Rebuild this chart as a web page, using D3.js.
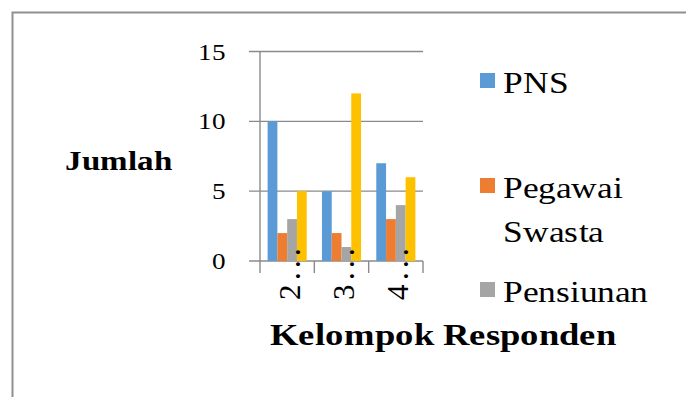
<!DOCTYPE html>
<html><head><meta charset="utf-8">
<script src="https://cdn.jsdelivr.net/npm/d3@7"></script>
<style>
@font-face { font-family: "ChartSerif"; font-weight: 400; src: local("Liberation Serif"), local("LiberationSerif"), local("Liberation Serif Regular"), local("LiberationSerif-Regular"); }
@font-face { font-family: "ChartSerif"; font-weight: 700; src: local("Liberation Serif Bold"), local("LiberationSerif-Bold"); }
html,body{margin:0;padding:0;background:#fff}
</style>
</head><body>
<svg id="chart" width="686" height="397"></svg>
<script>
// Jumlah responden per kelompok dan pekerjaan
const categories = ["2...", "3...", "4..."];
const seriesNames = ["PNS", "Pegawai Swasta", "Pensiunan", "Wiraswasta"];
const legendLines = [["PNS"], ["Pegawai", "Swasta"], ["Pensiunan"]];
const seriesColors = ["#5B9BD5", "#ED7D31", "#A5A5A5", "#FFC000"];
const pns = [10, 5, 7];
const pegawaiSwasta = [2, 2, 3];
const pensiunan = [3, 1, 4];
const wiraswasta = [5, 12, 6];
const yTicks = [0, 5, 10, 15];

const seriesValues = [pns, pegawaiSwasta, pensiunan, wiraswasta];
const data = categories.map((c, i) => ({
  cat: c,
  vals: seriesNames.map((s, k) => ({ key: s, value: seriesValues[k][i], color: seriesColors[k] }))
}));

const FONT = "ChartSerif, 'Liberation Serif', 'Times New Roman', 'DejaVu Serif', serif";
const SX = 1.18; // horizontal widening of the lettering
const svg = d3.select("#chart");

// widen a text horizontally by SX through textLength
function widen(sel) {
  sel.each(function () {
    const w = this.getComputedTextLength();
    d3.select(this).attr("textLength", w * SX).attr("lengthAdjust", "spacingAndGlyphs");
  });
}

// outer frame
svg.append("path")
  .attr("d", "M12.5,397 V12.5 H686")
  .attr("fill", "none").attr("stroke", "#8f8f8f").attr("stroke-width", 2);

const plotLeft = 260, plotRight = 423, plotTop = 51.5, plotBottom = 261;
const y = d3.scaleLinear().domain([0, 15]).range([plotBottom, plotTop]);
const x = d3.scaleBand().domain(categories).range([plotLeft, plotRight]).paddingInner(0).paddingOuter(0);
const x1 = d3.scaleBand().domain(seriesNames).range([0, x.bandwidth()]).paddingInner(0).paddingOuter(0.78);

const gridColor = "#8a8a8a";
// horizontal gridlines with tick stubs
svg.append("g").selectAll("line").data(yTicks).join("line")
  .attr("x1", plotLeft - 11).attr("x2", plotRight)
  .attr("y1", d => y(d)).attr("y2", d => y(d))
  .attr("stroke", gridColor).attr("stroke-width", 1.4);

// y axis line
svg.append("line")
  .attr("x1", plotLeft).attr("x2", plotLeft)
  .attr("y1", y(15)).attr("y2", plotBottom + 12)
  .attr("stroke", gridColor).attr("stroke-width", 1.4);

// category boundary ticks
const bounds = categories.map(c => x(c)).concat([x.range()[1]]);
svg.append("g").selectAll("line").data(bounds.slice(1)).join("line")
  .attr("x1", d => d).attr("x2", d => d)
  .attr("y1", plotBottom).attr("y2", plotBottom + 12)
  .attr("stroke", gridColor).attr("stroke-width", 1.4);

// bars
svg.append("g").selectAll("g").data(data).join("g")
  .attr("transform", d => `translate(${x(d.cat)},0)`)
  .selectAll("rect").data(d => d.vals).join("rect")
  .attr("x", d => x1(d.key))
  .attr("width", x1.bandwidth())
  .attr("y", d => y(d.value))
  .attr("height", d => y(0) - y(d.value))
  .attr("fill", d => d.color);

// legend swatches
const legendBase = [93, 198, 302];
svg.selectAll("rect.swatch").data(legendLines).join("rect")
  .attr("class", "swatch")
  .attr("x", 480).attr("y", (d, i) => legendBase[i] - 20)
  .attr("width", 15).attr("height", 15)
  .attr("fill", (d, i) => seriesColors[i]);

function draw() {
  // y tick labels
  svg.selectAll("text.ytick").data(yTicks).join("text")
    .attr("class", "ytick")
    .attr("x", 226).attr("y", d => y(d))
    .attr("dy", "0.35em")
    .attr("text-anchor", "end")
    .style("font-family", FONT).style("font-size", "23px").style("font-weight", "400")
    .text(d => d)
    .call(widen);

  // rotated category labels
  svg.selectAll("text.xtick").data(categories).join("text")
    .attr("class", "xtick")
    .attr("transform", d => `translate(${x(d) + x.bandwidth() / 2 + 12.5},300) rotate(-90)`)
    .style("font-family", FONT).style("font-size", "31px").style("font-weight", "400")
    .style("letter-spacing", "4px")
    .text(d => d);

  // axis titles
  svg.append("text")
    .attr("x", 65).attr("y", 170)
    .style("font-family", FONT).style("font-size", "28px").style("font-weight", "700")
    .text("Jumlah")
    .call(widen);
  svg.append("text")
    .attr("x", 270).attr("y", 345)
    .style("font-family", FONT).style("font-size", "30.5px").style("font-weight", "700")
    .text("Kelompok Responden")
    .call(widen);

  // legend labels
  const legendRows = [
    { text: legendLines[0][0], y: legendBase[0] },
    { text: legendLines[1][0], y: legendBase[1] },
    { text: legendLines[1][1], y: legendBase[1] + 44 },
    { text: legendLines[2][0], y: legendBase[2] }
  ];
  svg.selectAll("text.legend").data(legendRows).join("text")
    .attr("class", "legend")
    .attr("x", 503).attr("y", d => d.y)
    .style("font-family", FONT).style("font-size", "30px").style("font-weight", "400")
    .text(d => d.text)
    .call(widen);
}

// lay the text out once the local faces are ready so widths are measured in the right font
if (document.fonts && document.fonts.load) {
  Promise.all([
    document.fonts.load("400 30px ChartSerif"),
    document.fonts.load("700 30px ChartSerif")
  ]).then(draw, draw);
} else {
  draw();
}
</script>
</body></html>
